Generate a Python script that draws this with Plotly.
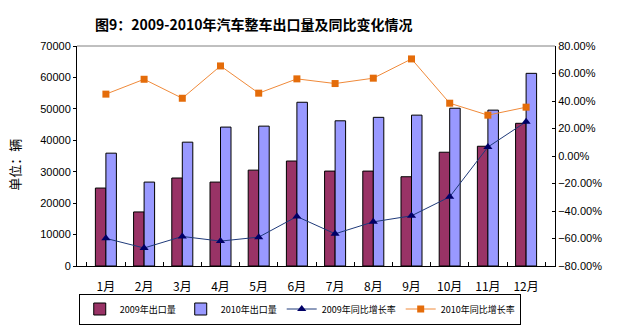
import plotly.graph_objects as go

months = ["1月", "2月", "3月", "4月", "5月", "6月", "7月", "8月", "9月", "10月", "11月", "12月"]
exports_2009 = [24800, 17200, 28000, 26700, 30500, 33400, 30200, 30200, 28400, 36200, 38100, 45400]
exports_2010 = [35900, 26700, 39400, 44200, 44500, 52100, 46200, 47300, 48000, 50200, 49600, 61300]
yoy_2009 = [-0.599, -0.669, -0.585, -0.619, -0.590, -0.440, -0.566, -0.479, -0.435, -0.297, 0.065, 0.249]
yoy_2010 = [0.450, 0.558, 0.420, 0.655, 0.457, 0.561, 0.527, 0.566, 0.706, 0.384, 0.297, 0.355]

CJK = "Noto Sans CJK SC"
LAT = "Arial, Liberation Sans"

fig = go.Figure()
fig.add_trace(go.Bar(x=months, y=exports_2009, name="2009年出口量",
                     marker=dict(color="#993366", line=dict(color="black", width=1))))
fig.add_trace(go.Bar(x=months, y=exports_2010, name="2010年出口量",
                     marker=dict(color="#9999FF", line=dict(color="black", width=1))))
fig.add_trace(go.Scatter(x=months, y=yoy_2009, name="2009年同比增长率", yaxis="y2",
                         mode="lines+markers", line=dict(color="#1F3A7A", width=1),
                         marker=dict(symbol="triangle-up", size=8, color="#000066")))
fig.add_trace(go.Scatter(x=months, y=yoy_2010, name="2010年同比增长率", yaxis="y2",
                         mode="lines+markers", line=dict(color="#F08A3A", width=1),
                         marker=dict(symbol="square", size=7, color="#E46C0A")))

fig.update_layout(
    width=619, height=325,
    margin=dict(l=77, r=64, t=46, b=59, autoexpand=False),
    paper_bgcolor="white", plot_bgcolor="white",
    barmode="group", bargap=0.45, bargroupgap=0,
    title=dict(text="<b>图9：2009-2010年汽车整车出口量及同比变化情况</b>",
               x=0.41, xanchor="center", y=0.923, yanchor="middle",
               font=dict(family=CJK, size=14, color="black")),
    xaxis=dict(type="category", showline=True, linecolor="black", linewidth=1,
               ticks="inside", tickson="boundaries", ticklen=4, tickcolor="black",
               ticklabelstandoff=10,
               tickfont=dict(family=CJK, size=12, color="black"), showgrid=False),
    yaxis=dict(range=[0, 70000], dtick=10000, tickformat="d", showline=True, linecolor="black", linewidth=1,
               ticks="outside", ticklen=3, tickcolor="black", showgrid=False, zeroline=False,
               tickfont=dict(family=LAT, size=11, color="black")),
    yaxis2=dict(range=[-0.8, 0.8], dtick=0.2, tickformat=".2%", overlaying="y", side="right",
                showline=True, linecolor="black", linewidth=1, ticks="inside", ticklen=3,
                tickcolor="black", showgrid=False, zeroline=False,
                tickfont=dict(family=LAT, size=11, color="black")),
    legend=dict(orientation="h", x=0.466, xanchor="center", y=-0.125, yanchor="top",
                bordercolor="black", borderwidth=1, font=dict(family=CJK, size=9, color="black"),
                itemwidth=30, tracegroupgap=0),
    shapes=[dict(type="line", xref="paper", yref="paper", x0=0, x1=1, y0=1, y1=1,
                 line=dict(color="#808080", width=1))],
    annotations=[dict(text="单位：辆", textangle=-90, xref="paper", yref="paper",
                      x=-0.13, y=0.46, xanchor="center", yanchor="middle", showarrow=False,
                      font=dict(family=CJK, size=13, color="black"))],
)

fig.write_html("out.html")
